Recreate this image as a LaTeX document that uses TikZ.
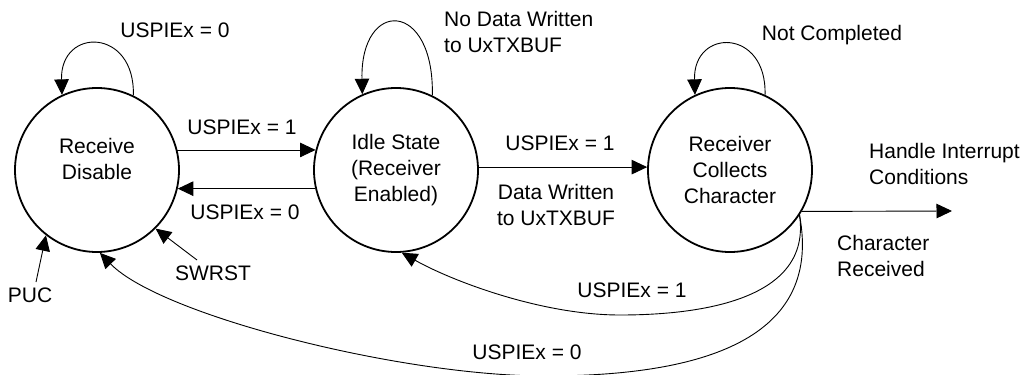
\documentclass[tikz,border=0pt]{standalone}
\usepackage{fontspec}
\setmainfont{Liberation Sans}
\usetikzlibrary{arrows.meta}
\newcommand{\lblfont}{\fontsize{21}{26}\selectfont}
\begin{document}
\begin{tikzpicture}[x=1pt,y=-1pt,
  state/.style={circle,draw,line width=1.8pt,minimum size=164pt,inner sep=0pt,align=center,font=\lblfont},
  conn/.style={line width=0.9pt,-{Triangle[length=15.5pt,width=14.5pt]}},
  lbl/.style={font=\lblfont,inner sep=0pt}]
\useasboundingbox (0,0) rectangle (1026,375);
% states
\node[state] (c1) at (97,170) {Receive\\Disable\\[-4pt]};
\node[state] (c2) at (396,170) {Idle State\\(Receiver\\Enabled)};
\node[state] (c3) at (730,170) {Receiver\\Collects\\Character};
% helper coordinates
\coordinate (out) at (952,211);
\coordinate (pucs) at (36,282);
\coordinate (swrs) at (197,260);
\coordinate (m1) at (620,315);
\coordinate (m0) at (545,376);
% self loops
\draw[conn] (c1.64) .. controls +(2,-68) and +(-2,-68) .. (c1.115);
\draw[conn] (c2.64) .. controls +(2,-96) and +(-2,-96) .. (c2.114);
\draw[conn] (c3.65) .. controls +(2,-67) and +(-2,-67) .. (c3.115);
% straight transitions
\draw[conn] (c1.14) -- (c2.166);
\draw[conn] (c2.-167) -- (c1.-13);
\draw[conn] (c2.2) -- (c3.178);
\draw[conn] (c3.-30) -- (out);
\draw[conn] (pucs) -- (c1.-128);
\draw[conn] (swrs) -- (c1.-45);
% curved returns
\draw[conn] (c3.-33) .. controls (812,300) and (700,315) .. (m1)
  .. controls (540,315) and (450,280) .. (c2.-86);
\draw[conn] (c3.-33) .. controls (824,345) and (690,376) .. (m0)
  .. controls (400,376) and (160,315) .. (c1.-88);
% labels
\node[lbl] (l1) at (175,30) {USPIEx = 0};
\node[lbl] (l2) at (242,127) {USPIEx = 1};
\node[lbl] (l3) at (245,212) {USPIEx = 0};
\node[lbl,anchor=west,align=left] (l4) at (444,32) {No Data Written\\to UxTXBUF};
\node[lbl] (l5) at (560,143) {USPIEx = 1};
\node[lbl,align=center] (l6) at (556,205) {Data Written\\to UxTXBUF};
\node[lbl] (l7) at (832,35) {Not Completed};
\node[lbl,anchor=west,align=left] (l8) at (869,164) {Handle Interrupt\\Conditions};
\node[lbl,anchor=west,align=left] (l9) at (837,256) {Character\\Received};
\node[lbl] (l10) at (632,290) {USPIEx = 1};
\node[lbl] (l11) at (527,352) {USPIEx = 0};
\node[lbl] (l12) at (30,295) {PUC};
\node[lbl] (l13) at (213,273) {SWRST};
\end{tikzpicture}
\end{document}
